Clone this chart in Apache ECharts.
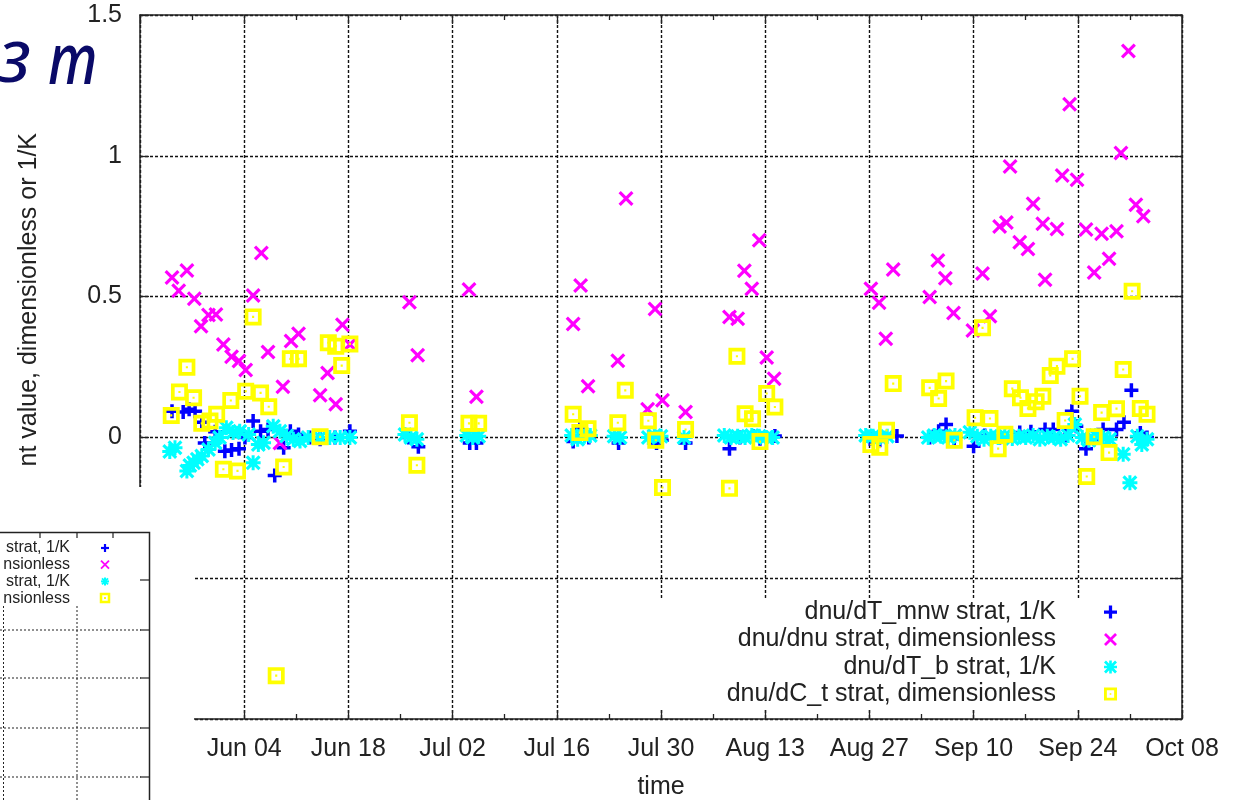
<!DOCTYPE html>
<html>
<head>
<meta charset="utf-8">
<script src="https://cdn.jsdelivr.net/npm/echarts@6/dist/echarts.min.js"></script>
<style>
  html, body { margin: 0; padding: 0; background: #fff; }
  #main { width: 1236px; height: 800px; }
</style>
</head>
<body>
<div id="main"></div>
<script>
// x = day of year (Jan 1 = 0), y = coefficient value
var seriesNames = [
  "dnu/dT_mnw strat, 1/K",
  "dnu/dnu strat, dimensionless",
  "dnu/dT_b strat, 1/K",
  "dnu/dC_t strat, dimensionless"
];

var mnwPoints = [
  [144.3, 0.093], [145.8, 0.09], [146.6, 0.10], [147.4, 0.093], [148.3, 0.054], [148.7, -0.02],
  [150.1, 0.02], [151.4, -0.049], [152.3, -0.045], [153.3, -0.04], [154.1, 0.0], [155.2, 0.058],
  [156.2, 0.022], [157.2, 0.028], [158.1, -0.135], [159.3, -0.037], [160.2, 0.022], [161.3, 0.01],
  [162.8, 0.0], [164.2, -0.007], [166.2, 0.0], [168.2, 0.022],
  [176.1, 0.0], [177.4, -0.033], [184.3, -0.02], [185.2, -0.02],
  [198.2, -0.015], [199.1, 0.03], [200.3, 0.0], [204.3, -0.02], [209.4, -0.02], [210.1, -0.01], [213.3, -0.02],
  [219.2, -0.04], [220.6, 0.0], [222.4, 0.005], [223.3, -0.005], [225.3, 0.005],
  [238.1, -0.005], [239.4, -0.01], [241.7, 0.005],
  [246.1, 0.0], [247.3, 0.022], [248.3, 0.046], [249.4, -0.005],
  [252.0, -0.031], [253.5, 0.007], [255.5, 0.0], [258.2, 0.017], [259.7, 0.02], [261.6, 0.028],
  [262.7, 0.028], [264.3, 0.007], [265.2, 0.093], [265.8, 0.04], [267.1, -0.04], [268.2, -0.007],
  [269.4, 0.028], [271.2, 0.028], [272.2, 0.054], [273.2, 0.167], [274.4, 0.016], [275.3, 0.0]
];

var dnuPoints = [
  [144.3, 0.568], [146.3, 0.593], [145.2, 0.521], [147.3, 0.492], [149.2, 0.435], [150.2, 0.436],
  [148.2, 0.395], [151.2, 0.33], [152.3, 0.286], [153.3, 0.271], [154.2, 0.239], [155.2, 0.504],
  [156.3, 0.655], [157.2, 0.303], [159.2, 0.18], [160.3, 0.342], [161.3, 0.368], [164.2, 0.15],
  [165.2, 0.229], [166.3, 0.118], [167.2, 0.40], [168.2, 0.33], [158.8, -0.02],
  [176.2, 0.48], [177.3, 0.292], [184.2, 0.525], [185.2, 0.144],
  [198.2, 0.403], [199.2, 0.539], [200.2, 0.182], [204.2, 0.272], [205.3, 0.848], [208.2, 0.10],
  [209.2, 0.456], [210.2, 0.132], [213.3, 0.09],
  [219.2, 0.428], [220.3, 0.421], [221.2, 0.592], [222.2, 0.528], [223.2, 0.70], [224.2, 0.284], [225.2, 0.208],
  [238.2, 0.528], [239.3, 0.478], [240.2, 0.35], [241.2, 0.596],
  [246.1, 0.499], [247.2, 0.628], [248.2, 0.565], [249.3, 0.442], [251.9, 0.38],
  [253.2, 0.582], [254.2, 0.43], [255.5, 0.749], [256.4, 0.763], [256.9, 0.962], [258.2, 0.693],
  [259.3, 0.669], [260.0, 0.83], [261.3, 0.759], [261.6, 0.56], [263.2, 0.74], [263.9, 0.93],
  [264.9, 1.183], [265.9, 0.915], [267.1, 0.738], [268.2, 0.586], [269.2, 0.723], [270.2, 0.634],
  [271.2, 0.732], [271.8, 1.01], [272.8, 1.372], [273.8, 0.826], [274.8, 0.785]
];

var tbPoints = [
  [144.0, -0.05], [144.7, -0.037], [146.3, -0.119], [146.7, -0.1], [147.2, -0.09], [147.7, -0.078],
  [148.3, -0.066], [149.2, -0.043], [150.1, -0.019], [150.7, 0.0], [151.6, 0.034], [152.5, 0.017],
  [153.4, 0.022], [154.6, 0.01], [155.2, -0.09], [155.9, -0.025], [156.6, -0.019], [157.9, 0.04],
  [158.8, 0.022], [159.7, 0.005], [160.6, -0.007], [161.5, -0.013], [162.6, 0.0], [164.2, 0.0],
  [165.5, 0.0], [166.9, 0.0], [168.2, 0.0],
  [175.6, 0.01], [176.4, 0.0], [177.2, -0.007],
  [183.9, 0.007], [184.7, 0.0], [185.5, 0.004],
  [198.0, 0.007], [198.8, -0.007], [199.7, 0.004], [200.5, 0.007],
  [203.7, 0.004], [204.5, 0.0], [208.3, 0.0], [209.1, 0.007], [210.0, 0.004], [213.1, 0.0],
  [218.5, 0.007], [219.4, 0.0], [220.3, 0.004], [221.3, 0.0], [222.2, 0.007], [223.2, 0.004],
  [224.1, 0.0], [225.0, 0.0],
  [237.5, 0.007], [238.5, 0.004], [239.4, 0.0], [240.4, 0.004],
  [245.9, 0.0], [246.7, 0.007], [247.6, 0.004], [248.6, 0.0], [249.5, 0.007],
  [251.5, 0.018], [252.5, 0.004], [253.4, -0.007], [254.3, 0.004], [255.3, 0.0], [256.2, 0.007],
  [257.2, -0.004], [258.1, 0.004], [259.0, 0.0], [260.0, 0.007], [260.9, -0.007], [261.9, 0.004],
  [262.8, 0.0], [263.7, -0.007], [264.7, 0.007], [265.6, 0.046], [266.6, 0.0], [267.5, -0.01],
  [268.4, 0.007], [269.4, 0.0], [270.3, -0.007], [272.1, -0.06], [273.0, -0.161], [274.0, 0.004],
  [274.6, -0.025], [275.3, -0.007]
];

var ctPoints = [
  [144.2, 0.078], [145.3, 0.161], [146.3, 0.249], [147.2, 0.141], [148.3, 0.05], [149.4, 0.058],
  [150.3, 0.082], [151.2, -0.113], [152.2, 0.131], [153.1, -0.119], [154.2, 0.164], [155.2, 0.428],
  [156.2, 0.158], [157.3, 0.109], [158.3, -0.846], [159.3, -0.105], [160.2, 0.279], [161.3, 0.279],
  [164.2, 0.002], [165.3, 0.336], [166.3, 0.324], [167.1, 0.255], [168.2, 0.332],
  [176.2, 0.052], [177.2, -0.099], [184.2, 0.05], [185.5, 0.05],
  [198.2, 0.082], [199.1, 0.017], [200.2, 0.031], [204.2, 0.052], [205.2, 0.167], [208.3, 0.059],
  [209.3, -0.01], [210.2, -0.178], [213.3, 0.028],
  [219.2, -0.181], [220.2, 0.288], [221.3, 0.084], [222.3, 0.066], [223.3, -0.015], [224.2, 0.156], [225.3, 0.108],
  [238.2, -0.025], [239.4, -0.035], [240.3, 0.025], [241.2, 0.191],
  [246.1, 0.176], [247.3, 0.138], [248.3, 0.2], [249.4, -0.01],
  [252.2, 0.07], [253.2, 0.389], [254.2, 0.067], [255.3, -0.04], [256.2, 0.011], [257.2, 0.173],
  [258.3, 0.141], [259.3, 0.103], [260.4, 0.127], [261.3, 0.146], [262.3, 0.22], [263.2, 0.253],
  [264.3, 0.06], [265.3, 0.279], [266.3, 0.146], [267.2, -0.139], [268.2, 0.002], [269.2, 0.088],
  [270.2, -0.054], [271.2, 0.102], [272.1, 0.241], [273.3, 0.519], [274.4, 0.103], [275.3, 0.082]
];

var monthNames = ["Jan", "Feb", "Mar", "Apr", "May", "Jun", "Jul", "Aug", "Sep", "Oct", "Nov", "Dec"];

function dayLabel(d) {
  var dt = new Date(Date.UTC(2011, 0, 1) + d * 86400000);
  var dd = dt.getUTCDate();
  return monthNames[dt.getUTCMonth()] + " " + (dd < 10 ? "0" + dd : dd);
}

var FONT = "Liberation Sans";
var plusPath = "path://M4.5,0H7.5V4.5H12V7.5H7.5V12H4.5V7.5H0V4.5H4.5Z";
var crossPath = "path://M1.5,0L5,3.5L8.5,0L10,1.5L6.5,5L10,8.5L8.5,10L5,6.5L1.5,10L0,8.5L3.5,5L0,1.5Z";
var starPath = "path://M4,0H6V4H10V6H6V10H4V6H0V4H4Z M1.5,0L5,3.5L8.5,0L10,1.5L6.5,5L10,8.5L8.5,10L5,6.5L1.5,10L0,8.5L3.5,5L0,1.5Z";
var boxPath = "path://M0,0H16V16H0Z M3.5,3.5V12.5H12.5V3.5Z M7,7H9V9H7Z";

var dom = document.getElementById("main");
var chart = echarts.init(dom);

var axisLine = { show: true, onZero: false, lineStyle: { color: "#222", width: 1.5 } };
var gridLine = { show: true, lineStyle: { color: "#111", width: 1.4, type: [3, 2] } };
var tick = { show: true, inside: true, length: 9, lineStyle: { color: "#222", width: 1.3 } };
var minor = { show: true, splitNumber: 2, length: 5, lineStyle: { color: "#222", width: 1.3 } };

function makeLegend(i, top) {
  return {
    data: [seriesNames[i]],
    orient: "vertical",
    align: "right",
    right: 119,
    top: top,
    padding: 0,
    itemWidth: 13,
    itemHeight: 13,
    selectedMode: false,
    textStyle: {
      fontFamily: FONT, fontSize: 25, color: "#222",
      lineHeight: 26, padding: [0, 43, 0, 0]
    }
  };
}

function makeSeries(i, data, symbol, size, color) {
  return {
    name: seriesNames[i],
    type: "scatter",
    data: data,
    symbol: symbol,
    symbolSize: size,
    itemStyle: { color: color, opacity: 1 },
    emphasis: { disabled: true },
    animation: false
  };
}

function seg(x1, y1, x2, y2, color, w, dash) {
  return { type: "line", z: 11, silent: true, shape: { x1: x1, y1: y1, x2: x2, y2: y2 }, style: { stroke: color, lineWidth: w, lineDash: dash || null } };
}

// lower-left leftover of another panel
var frag = [];
frag.push({ type: "rect", z: 10, silent: true, shape: { x: 0, y: 487, width: 194, height: 313 }, style: { fill: "#fff" } });
frag.push({ type: "polyline", z: 11, silent: true, shape: { points: [[0, 532.5], [149.5, 532.5], [149.5, 800]] }, style: { stroke: "#222", lineWidth: 1.5, fill: null } });
[40, 77, 113].forEach(function (x) { frag.push(seg(x, 533, x, 538, "#222", 1.2)); });
[580, 630, 678, 728, 777].forEach(function (y) { frag.push(seg(140, y, 149, y, "#222", 1.2)); });
[630, 678, 728, 777].forEach(function (y) { frag.push(seg(0, y, 141, y, "#222", 1, [2, 2])); });
[3.5, 77].forEach(function (x) { frag.push(seg(x, 606, x, 800, "#222", 1, [2, 2])); });

var fragText = ["strat, 1/K", "nsionless", "strat, 1/K", "nsionless"];
fragText.forEach(function (t, i) {
  frag.push({ type: "text", z: 11, silent: true, style: { text: t, x: 70, y: 548 + i * 16.7, align: "right", verticalAlign: "middle", fontFamily: FONT, fontSize: 16, fill: "#222" } });
});
var sx = 105, s = 4;
var y0 = 548, y1 = 564.7, y2 = 581.4, y3 = 598.1;
frag.push(seg(sx - s, y0, sx + s, y0, "#0000ff", 2.2), seg(sx, y0 - s, sx, y0 + s, "#0000ff", 2.2));
frag.push(seg(sx - s, y1 - s, sx + s, y1 + s, "#ff00ff", 1.8), seg(sx - s, y1 + s, sx + s, y1 - s, "#ff00ff", 1.8));
frag.push(seg(sx - s, y2, sx + s, y2, "#00ffff", 2), seg(sx, y2 - s, sx, y2 + s, "#00ffff", 2),
  seg(sx - 3, y2 - 3, sx + 3, y2 + 3, "#00ffff", 2), seg(sx - 3, y2 + 3, sx + 3, y2 - 3, "#00ffff", 2));
frag.push({ type: "rect", z: 11, silent: true, shape: { x: sx - 4, y: y3 - 4, width: 8, height: 8 }, style: { fill: null, stroke: "#ffff00", lineWidth: 2.5 } });
frag.push({ type: "rect", z: 11, silent: true, shape: { x: sx - 1, y: y3 - 1, width: 2, height: 2 }, style: { fill: "#ffff00" } });

chart.setOption({
  backgroundColor: "#fff",
  animation: false,
  grid: { left: 140, right: 54, top: 15, bottom: 81, containLabel: false, outerBoundsMode: "none" },
  legend: [makeLegend(0, 599), makeLegend(1, 626.5), makeLegend(2, 654), makeLegend(3, 681)],
  xAxis: [
    {
      type: "value", position: "bottom", min: 140, max: 280, interval: 14,
      name: "time", nameLocation: "middle", nameGap: 56,
      nameTextStyle: { fontFamily: FONT, fontSize: 25, color: "#222" },
      axisLine: axisLine, axisTick: tick, minorTick: minor,
      axisLabel: { margin: 18, fontFamily: FONT, fontSize: 25, color: "#222", formatter: dayLabel },
      splitLine: gridLine
    },
    {
      type: "value", position: "top", min: 140, max: 280, interval: 14,
      axisLine: axisLine, axisTick: tick, minorTick: minor,
      axisLabel: { show: false },
      splitLine: { show: false }
    }
  ],
  yAxis: [
    {
      type: "value", position: "left", min: -1, max: 1.5, interval: 0.5,
      axisLine: axisLine, axisTick: tick,
      axisLabel: { margin: 18, fontFamily: FONT, fontSize: 25, color: "#222" },
      splitLine: gridLine
    },
    {
      type: "value", position: "right", min: -1, max: 1.5, interval: 0.5,
      axisLine: axisLine, axisTick: tick,
      axisLabel: { show: false },
      splitLine: { show: false }
    }
  ],
  series: [
    makeSeries(0, mnwPoints, plusPath, 14, "#0000ff"),
    makeSeries(1, dnuPoints, crossPath, 15, "#ff00ff"),
    makeSeries(2, tbPoints, starPath, 15, "#00ffff"),
    makeSeries(3, ctPoints, boxPath, 17, "#ffff00")
  ],
  graphic: [
    { type: "rect", z: 1, silent: true, shape: { x: 600, y: 598, width: 580, height: 111 }, style: { fill: "#fff" } },
    {
      type: "text", z: 12, silent: true, x: 29, y: 133, rotation: Math.PI / 2,
      style: { text: "nt value, dimensionless or 1/K", align: "right", verticalAlign: "middle", fontFamily: FONT, fontSize: 25, fill: "#222" }
    },
    { type: "text", z: 12, silent: true, x: -4, y: 66, scaleX: 1.12, style: { text: "3", x: 0, y: 0, verticalAlign: "middle", fontFamily: "Noto Sans", fontStyle: "italic", fontWeight: 500, fontSize: 56, fill: "#0a0a68" } },
    { type: "text", z: 12, silent: true, x: 48, y: 64, scaleX: 0.8, style: { text: "m", x: 0, y: 0, verticalAlign: "middle", fontFamily: "Noto Sans", fontStyle: "italic", fontWeight: 500, fontSize: 70, fill: "#0a0a68" } }
  ].concat(frag)
});
</script>
</body>
</html>
